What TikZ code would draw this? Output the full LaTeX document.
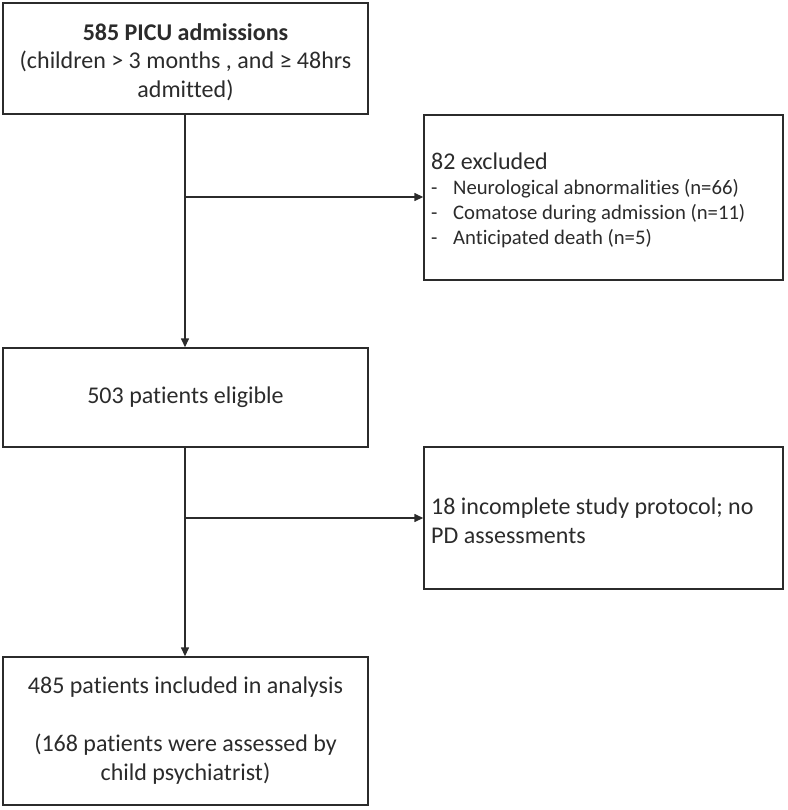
\documentclass[tikz,border=0pt]{standalone}
\usepackage{fontspec}
\setmainfont{Carlito}[RawFeature={-liga;-clig;-calt;-dlig;-rlig}]
\usetikzlibrary{arrows.meta}
\definecolor{ink}{HTML}{2B2B2B}
\tikzset{
  box/.style={draw=ink, line width=1.4pt, rectangle, inner sep=0pt, text=ink},
  big/.style={font=\fontsize{24}{29}\selectfont},
  conn/.style={draw=ink, line width=1.4pt},
  arr/.style={conn, -{Triangle[length=9pt,width=8pt]}}
}
\begin{document}
\begin{tikzpicture}[x=1pt,y=-1pt]
\useasboundingbox (0,0) rectangle (787,810);
\node[box, minimum width=365pt, minimum height=111pt] (adm) at (185.5,58.5) {};
\node[big, align=center, text=ink, inner sep=0pt] (admtxt) at (185.5,62)
  {\textbf{585 PICU admissions}\\[-1pt](children > 3 months , and ≥ 48hrs\\admitted)};
\node[box, minimum width=359pt, minimum height=165pt] (excl) at (603.5,197.5) {};
\node[anchor=west, align=left, text=ink, inner sep=0pt, font=\fontsize{20.7}{25}\selectfont] (excltxt) at (431,200.5)
  {{\fontsize{24}{26}\selectfont 82 excluded}\\
   \makebox[22pt][l]{-}Neurological abnormalities (n=66)\\
   \makebox[22pt][l]{-}Comatose during admission (n=11)\\
   \makebox[22pt][l]{-}Anticipated death (n=5)};
\node[box, big, minimum width=365pt, minimum height=99pt] (elig) at (185.5,397.5) {503 patients eligible};
\node[box, minimum width=359pt, minimum height=142pt] (inc) at (603.5,518) {};
\node[anchor=west, align=left, text=ink, inner sep=0pt, big] (inctxt) at (431,520.5)
  {18 incomplete study protocol; no\\PD assessments};
\node[box, big, align=center, minimum width=365pt, minimum height=148pt] (anal) at (185.5,731)
  {485 patients included in analysis\\[29pt](168 patients were assessed by\\child psychiatrist)};
\coordinate (b1) at (185,197);
\coordinate (b2) at (185,518);
\draw[arr] (adm.south -| b1) -- (elig.north -| b1);
\draw[arr] (b1) -- (excl.west |- b1);
\draw[arr] (elig.south -| b2) -- (anal.north -| b2);
\draw[arr] (b2) -- (inc.west |- b2);
\end{tikzpicture}
\end{document}
